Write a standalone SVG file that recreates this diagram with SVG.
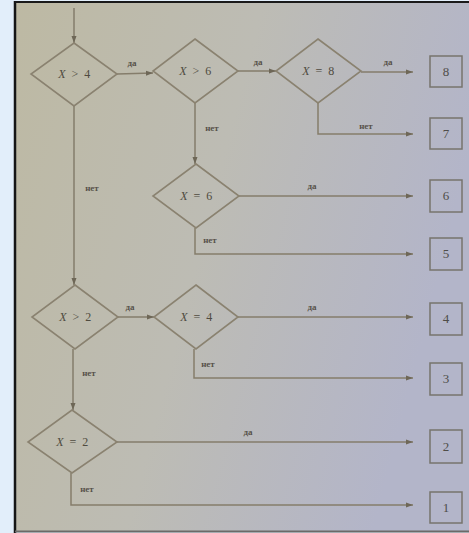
<svg xmlns="http://www.w3.org/2000/svg" width="469" height="533" viewBox="0 0 469 533">
<defs>
<linearGradient id="paper" x1="0" y1="0" x2="1" y2="0.3">
<stop offset="0" stop-color="#bdb9a3"/>
<stop offset="0.5" stop-color="#bdbcb4"/>
<stop offset="1" stop-color="#b3b5c9"/>
</linearGradient>
<marker id="ah" markerWidth="8" markerHeight="6" refX="7" refY="3" orient="auto" markerUnits="userSpaceOnUse">
<path d="M0,0.5 L7,3 L0,5.5 Z" fill="#6e6757"/>
</marker>
<style>
.ln{fill:none;stroke:#857d6b;stroke-width:1.5}
.ar{fill:none;stroke:#857d6b;stroke-width:1.5;marker-end:url(#ah)}
.dm{fill:none;stroke:#8a8270;stroke-width:1.6}
.bx{fill:none;stroke:#77746c;stroke-width:1.5}
.cond{font-family:"Liberation Serif",serif;font-size:12px;fill:#4f4b40;text-anchor:middle;letter-spacing:1.5px}
.cond tspan.v{font-style:italic}
.lb{font-family:"Liberation Serif",serif;font-size:9px;font-weight:bold;fill:#57524a;text-anchor:middle}
.num{font-family:"Liberation Serif",serif;font-size:13px;fill:#4f4d48;text-anchor:middle}
</style>
</defs>
<rect x="0" y="0" width="469" height="533" fill="#e2eefa"/>
<rect x="15" y="2" width="454" height="529" fill="url(#paper)"/>
<line x1="15" y1="1" x2="15" y2="533" stroke="#151515" stroke-width="2.5"/>
<line x1="15" y1="2" x2="469" y2="2" stroke="#1a1a1a" stroke-width="2"/>
<line x1="15" y1="531.5" x2="469" y2="531.5" stroke="#6b6a68" stroke-width="2"/>

<g id="connectors">
<line class="ar" x1="74" y1="8" x2="74" y2="43"/>
<line class="ar" x1="117" y1="74" x2="153" y2="73"/>
<line class="ar" x1="238" y1="71" x2="276" y2="71"/>
<line class="ar" x1="361" y1="72" x2="413" y2="72"/>
<polyline class="ar" points="318,103 318,134 413,134"/>
<line class="ar" x1="195" y1="103" x2="195" y2="164"/>
<line class="ar" x1="239" y1="196" x2="413" y2="196"/>
<polyline class="ar" points="195,228 195,254 413,254"/>
<line class="ar" x1="74" y1="106" x2="74" y2="285"/>
<line class="ar" x1="118" y1="317" x2="154" y2="317"/>
<line class="ar" x1="238" y1="317" x2="413" y2="317"/>
<polyline class="ar" points="194,349 194,378 413,378"/>
<line class="ar" x1="73" y1="349" x2="73" y2="410"/>
<line class="ar" x1="117" y1="442" x2="413" y2="442"/>
<polyline class="ar" points="71,473 71,505 413,505"/>
<text class="lb" x="132" y="66">да</text>
<text class="lb" x="258" y="65">да</text>
<text class="lb" x="388" y="65">да</text>
<text class="lb" x="366" y="129">нет</text>
<text class="lb" x="212" y="131">нет</text>
<text class="lb" x="92" y="191">нет</text>
<text class="lb" x="312" y="189">да</text>
<text class="lb" x="210" y="243">нет</text>
<text class="lb" x="130" y="310">да</text>
<text class="lb" x="312" y="310">да</text>
<text class="lb" x="89" y="376">нет</text>
<text class="lb" x="208" y="367">нет</text>
<text class="lb" x="248" y="435">да</text>
<text class="lb" x="87" y="492">нет</text>
</g>

<g id="d1"><polygon class="dm" points="74,43 117,74 74,106 31,74"/><text class="cond" x="75" y="78"><tspan class="v">X</tspan> &gt; 4</text></g>
<g id="d2"><polygon class="dm" points="195,39 238,71 195,103 153,71"/><text class="cond" x="196" y="75"><tspan class="v">X</tspan> &gt; 6</text></g>
<g id="d3"><polygon class="dm" points="318,39 361,71 318,103 276,71"/><text class="cond" x="319" y="75"><tspan class="v">X</tspan> = 8</text></g>
<g id="d4"><polygon class="dm" points="196,164 239,196 196,228 153,196"/><text class="cond" x="197" y="200"><tspan class="v">X</tspan> = 6</text></g>
<g id="d5"><polygon class="dm" points="75,285 118,317 75,349 32,317"/><text class="cond" x="76" y="321"><tspan class="v">X</tspan> &gt; 2</text></g>
<g id="d6"><polygon class="dm" points="196,285 238,317 196,349 154,317"/><text class="cond" x="197" y="321"><tspan class="v">X</tspan> = 4</text></g>
<g id="d7"><polygon class="dm" points="72,410 117,442 72,473 28,442"/><text class="cond" x="73" y="446"><tspan class="v">X</tspan> = 2</text></g>

<g id="b8"><rect class="bx" x="430" y="56" width="32" height="31"/><text class="num" x="446" y="76">8</text></g>
<g id="b7"><rect class="bx" x="430" y="118" width="32" height="31"/><text class="num" x="446" y="138">7</text></g>
<g id="b6"><rect class="bx" x="430" y="180" width="32" height="32"/><text class="num" x="446" y="200">6</text></g>
<g id="b5"><rect class="bx" x="430" y="238" width="32" height="32"/><text class="num" x="446" y="258">5</text></g>
<g id="b4"><rect class="bx" x="430" y="303" width="32" height="32"/><text class="num" x="446" y="323">4</text></g>
<g id="b3"><rect class="bx" x="430" y="363" width="32" height="32"/><text class="num" x="446" y="383">3</text></g>
<g id="b2"><rect class="bx" x="430" y="430" width="32" height="33"/><text class="num" x="446" y="451">2</text></g>
<g id="b1"><rect class="bx" x="430" y="492" width="32" height="31"/><text class="num" x="446" y="512">1</text></g>
</svg>
